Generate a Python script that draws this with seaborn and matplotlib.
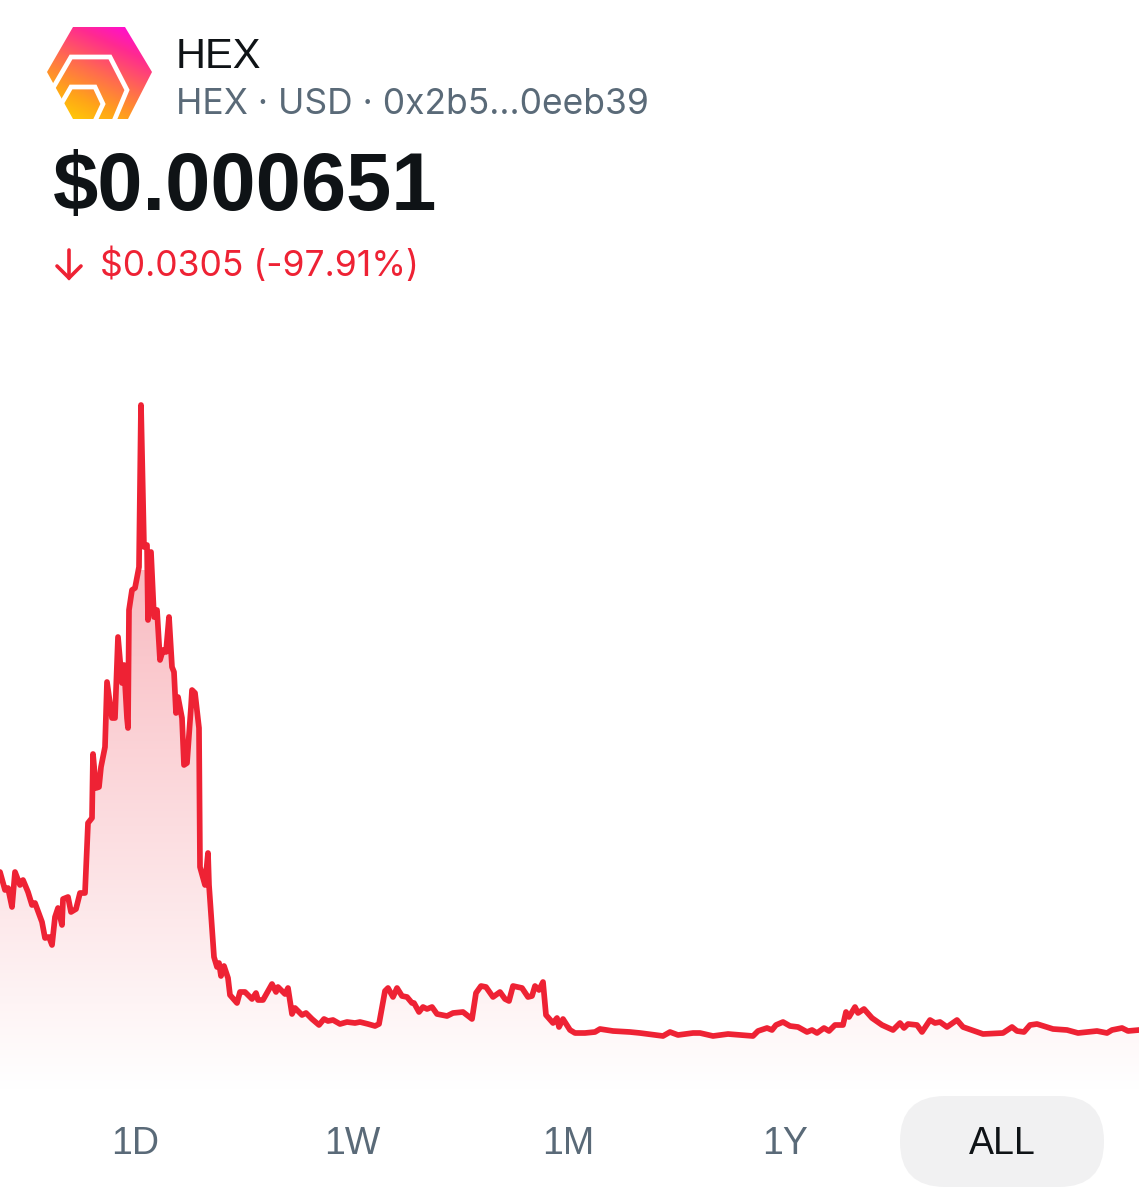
import numpy as np
import pandas as pd
import seaborn as sns
import matplotlib
matplotlib.use("Agg")
import matplotlib.pyplot as plt
from matplotlib.colors import LinearSegmentedColormap
from matplotlib.patches import FancyBboxPatch, Polygon

# values: time position and price height above the chart floor
time_pos = [0, 5, 8, 12, 15, 20, 23, 28, 32, 35, 42, 45, 49, 52, 55, 58, 62, 63, 68, 71,
            76, 80, 85, 88, 92, 93, 96, 99, 101, 105, 107, 112, 115, 118, 122, 124, 127, 128, 129, 132,
            135, 139, 141, 144, 147, 148, 151, 154, 157, 160, 163, 166, 169, 172, 174, 176, 178, 182, 184, 187,
            191, 192, 195, 199, 200, 205, 208, 209, 214, 217, 219, 221, 224, 228, 230, 237, 240, 245, 252, 256,
            258, 263, 272, 276, 278, 285, 288, 292, 295, 302, 306, 312, 319, 324, 328, 333, 340, 347, 355, 360,
            368, 375, 379, 385, 388, 393, 397, 402, 407, 412, 414, 419, 423, 427, 432, 437, 447, 453, 463, 472,
            476, 481, 486, 493, 500, 505, 509, 513, 522, 528, 532, 535, 539, 543, 546, 553, 557, 559, 563, 570,
            575, 585, 595, 600, 613, 630, 640, 663, 670, 678, 693, 700, 713, 728, 753, 758, 767, 772, 776, 783,
            790, 798, 807, 812, 817, 824, 829, 835, 843, 846, 849, 855, 858, 864, 872, 882, 893, 900, 904, 908,
            917, 922, 930, 935, 940, 947, 957, 963, 983, 1003, 1012, 1017, 1024, 1030, 1037, 1053, 1067, 1078, 1097, 1107,
            1112, 1122, 1128, 1139]
price_idx = [218, 200, 202, 183, 218, 205, 210, 198, 185, 187, 168, 152, 153, 145, 173, 182, 165, 191, 193, 178,
             181, 197, 197, 267, 272, 336, 302, 303, 323, 343, 408, 372, 372, 453, 407, 425, 372, 362, 480, 500,
             502, 523, 685, 543, 545, 470, 538, 473, 480, 430, 440, 438, 473, 423, 418, 377, 393, 372, 325, 327,
             383, 400, 397, 362, 223, 205, 237, 205, 133, 123, 127, 114, 124, 112, 95, 87, 98, 98, 91, 97,
             90, 90, 106, 98, 103, 96, 102, 76, 82, 75, 77, 71, 65, 71, 69, 70, 66, 68, 67, 68,
             66, 64, 66, 99, 102, 93, 102, 94, 93, 87, 87, 78, 83, 81, 83, 76, 74, 77, 78, 71,
             97, 104, 103, 93, 98, 91, 89, 104, 102, 93, 94, 104, 100, 108, 75, 67, 72, 63, 71, 60,
             57, 57, 58, 61, 59, 58, 57, 54, 58, 55, 57, 57, 54, 56, 54, 59, 62, 60, 65, 68,
             64, 63, 58, 60, 57, 62, 59, 65, 65, 78, 73, 83, 77, 81, 72, 65, 60, 67, 62, 66,
             65, 58, 70, 67, 68, 63, 70, 63, 56, 57, 63, 59, 58, 65, 66, 61, 60, 57, 59, 57,
             60, 62, 59, 60]
range_labels = ["1D", "1W", "1M", "1Y", "ALL"]
range_centers = [135, 352, 568, 785, 1002]
token_name = "HEX"
token_sub = "HEX · USD · 0x2b5...0eeb39"
price_text = "$0.000651"
change_text = "$0.0305 (-97.91%)"

RED = "#ee2234"
GREY = "#5a6a78"
INK = "#0f1316"

sns.set_theme(style="white")
plt.rcParams['font.family'] = ['Liberation Sans', 'DejaVu Sans']

df = pd.DataFrame({"time": time_pos, "price": price_idx})

fig = plt.figure(figsize=(11.39, 12), dpi=100, facecolor="white")

# chart area, y 400..1090 of the screenshot
ax = fig.add_axes([0, 110 / 1200, 1, 690 / 1200])
ax.axis("off")

fade = LinearSegmentedColormap.from_list("fade", ["#ffffff", "#f9bcc2"])
grad = np.linspace(1, 0, 256).reshape(-1, 1)
img = ax.imshow(grad, cmap=fade, extent=[0, 1139, 0, 520], aspect="auto", zorder=1)
area = ax.fill_between(df["time"], df["price"], 0, color="none", lw=0)
img.set_clip_path(area.get_paths()[0], transform=ax.transData)

sns.lineplot(data=df, x="time", y="price", color=RED, linewidth=4.1, estimator=None,
             ax=ax, zorder=3, solid_joinstyle="round", solid_capstyle="round")
ax.set_xlim(0, 1139)
ax.set_ylim(0, 690)
ax.set_xlabel("")
ax.set_ylabel("")

# overlay in screenshot pixels for the header and the range selector
ui = fig.add_axes([0, 0, 1, 1], facecolor="none")
ui.axis("off")

# logo
hex_pts = [(47, 72), (73, 27), (125, 27), (152, 72), (128, 119), (73, 119)]
logo_cmap = LinearSegmentedColormap.from_list("logo", ["#ffd800", "#ffa518", "#ff6a50", "#ff2a90", "#ff00ee"])
xx, yy = np.meshgrid(np.linspace(0, 1, 100), np.linspace(0, 1, 100))
logo = ui.imshow(xx * 0.35 + (1 - yy) * 0.65, cmap=logo_cmap, extent=[47, 152, 119, 27], aspect="auto", zorder=2)
logo.set_clip_path(Polygon(hex_pts, transform=ui.transData))
ui.plot([53, 71, 110, 127, 114], [88, 57, 57, 90, 121], color="white", lw=3.4, zorder=3, solid_joinstyle="miter")
ui.plot([60, 71, 95, 103, 95], [106, 87, 87, 104, 121], color="white", lw=3.4, zorder=3, solid_joinstyle="miter")

# header text
ui.text(176, 57, token_name, fontsize=30, color=INK, va="center", ha="left")
ui.text(176, 104, token_sub, fontsize=25.5, color=GREY, va="center", ha="left", family=["Inter", "DejaVu Sans"])
ui.text(53, 189, price_text, fontsize=58.5, color=INK, weight="bold", va="center", ha="left")
ui.text(100, 265, change_text, fontsize=25.5, color=RED, va="center", ha="left", family=["Inter", "DejaVu Sans"])

# down arrow
ui.plot([69, 69], [250, 278], color=RED, lw=2.6, solid_capstyle="round")
ui.plot([57, 69, 81], [266, 278, 266], color=RED, lw=2.6, solid_capstyle="round", solid_joinstyle="miter")

# range selector
pill = FancyBboxPatch((945, 1141), 114, 1, boxstyle="round,pad=45,rounding_size=45",
                      fc="#f1f1f2", ec="none", zorder=1)
ui.add_patch(pill)
for label, cx in zip(range_labels, range_centers):
    ui.text(cx, 1144, label, fontsize=27, color=INK if label == "ALL" else GREY,
            ha="center", va="center", zorder=2)

ui.set_xlim(0, 1139)
ui.set_ylim(1200, 0)

fig.savefig("out.png", dpi=100)
